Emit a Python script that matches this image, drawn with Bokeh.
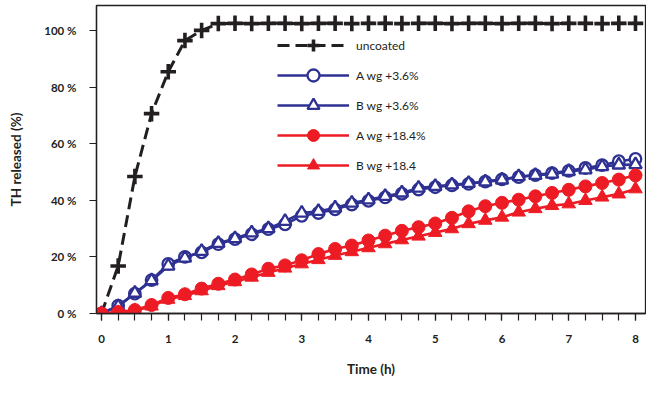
from bokeh.plotting import figure
from bokeh.models import Range1d, FixedTicker, Legend, LegendItem
from bokeh.embed import file_html
from bokeh.resources import INLINE

# ---- data ----
time_h = [0, 0.25, 0.5, 0.75, 1.0, 1.25, 1.5, 1.75, 2.0, 2.25, 2.5, 2.75, 3.0, 3.25,
          3.5, 3.75, 4.0, 4.25, 4.5, 4.75, 5.0, 5.25, 5.5, 5.75, 6.0, 6.25, 6.5, 6.75,
          7.0, 7.25, 7.5, 7.75, 8.0]

uncoated = [0, 16.8, 48.4, 70.6, 85.4, 96.4, 100.0, 102.4, 102.5, 102.4, 102.5, 102.5,
            102.4, 102.5, 102.5, 102.4, 102.5, 102.5, 102.4, 102.5, 102.5, 102.4, 102.5,
            102.5, 102.4, 102.5, 102.5, 102.4, 102.5, 102.5, 102.4, 102.5, 102.5]

a_wg_3_6 = [0, 2.8, 7.0, 11.8, 17.5, 20.0, 21.6, 24.5, 26.3, 28.0, 29.8, 31.5, 34.5,
            35.5, 36.8, 38.5, 39.8, 41.0, 42.3, 43.8, 44.6, 45.3, 45.8, 46.6, 47.4,
            48.2, 48.9, 49.6, 50.4, 51.4, 52.4, 53.8, 54.6]

b_wg_3_6 = [0, 2.5, 7.2, 11.6, 16.8, 19.6, 22.0, 24.8, 26.5, 28.5, 30.0, 32.6, 35.5,
            36.1, 37.3, 39.0, 40.2, 41.4, 42.6, 44.3, 44.9, 45.5, 46.0, 46.5, 47.2,
            48.4, 48.8, 49.3, 50.2, 50.8, 51.9, 52.5, 52.6]

a_wg_18_4 = [0, 0.5, 1.2, 3.0, 5.5, 6.8, 8.8, 10.5, 12.0, 13.8, 15.8, 17.0, 18.8,
             21.0, 22.8, 24.0, 25.8, 27.5, 29.2, 30.5, 31.8, 33.8, 36.1, 37.9, 39.1,
             40.2, 41.4, 42.6, 43.7, 44.9, 46.1, 47.3, 48.8]

b_wg_18_4 = [0, 0.3, 1.0, 2.6, 5.0, 6.3, 8.0, 9.8, 11.2, 12.8, 14.5, 16.0, 17.5,
             19.0, 20.5, 21.8, 23.2, 24.6, 26.0, 27.3, 28.6, 29.9, 31.7, 32.9, 34.0,
             35.8, 37.0, 38.1, 38.7, 39.9, 41.1, 42.2, 44.0]

x_ticks = [0, 1, 2, 3, 4, 5, 6, 7, 8]
y_ticks = [0, 20, 40, 60, 80, 100]
y_tick_labels = ["0 %", "20 %", "40 %", "60 %", "80 %", "100 %"]

series_labels = ["uncoated", "A wg +3.6%", "B wg +3.6%", "A wg +18.4%", "B wg +18.4"]

# ---- styling ----
BLACK = "#231F20"
NAVY = "#2E3192"
RED = "#ED1C24"
FONT = "Lato"

p = figure(width=646, height=379, output_backend="svg", toolbar_location=None,
           x_range=Range1d(-0.075, 8.15), y_range=Range1d(0, 108.8),
           min_border_left=96, min_border_right=1, min_border_top=5,
           min_border_bottom=64)
p.outline_line_color = BLACK
p.outline_line_width = 1.3
p.xgrid.visible = False
p.ygrid.visible = False
p.background_fill_color = "white"
p.border_fill_color = "white"

# x axis
xa = p.xaxis[0]
xa.ticker = FixedTicker(ticks=x_ticks,
                        minor_ticks=[i * 0.25 for i in range(0, 33)])
xa.axis_line_color = BLACK
xa.axis_line_width = 1.3
xa.major_tick_line_color = BLACK
xa.minor_tick_line_color = BLACK
xa.major_tick_line_width = 1.2
xa.minor_tick_line_width = 1.2
xa.major_tick_in = 0
xa.major_tick_out = 7
xa.minor_tick_in = 0
xa.minor_tick_out = 7
xa.major_label_standoff = 14
xa.major_label_text_font = FONT
xa.major_label_text_font_style = "bold"
xa.major_label_text_font_size = "11.5px"
xa.major_label_text_color = BLACK
xa.axis_label = "Time (h)"
xa.axis_label_text_font = FONT
xa.axis_label_text_font_style = "bold"
xa.axis_label_text_font_size = "13.5px"
xa.axis_label_text_color = BLACK
xa.axis_label_standoff = 15

# y axis
ya = p.yaxis[0]
ya.ticker = FixedTicker(ticks=y_ticks, minor_ticks=[])
ya.major_label_overrides = {t: lab for t, lab in zip(y_ticks, y_tick_labels)}
ya.axis_line_color = BLACK
ya.axis_line_width = 1.3
ya.major_tick_line_color = BLACK
ya.major_tick_line_width = 1.2
ya.major_tick_in = 0
ya.major_tick_out = 7
ya.minor_tick_line_color = None
ya.major_label_standoff = 13
ya.major_label_text_font = FONT
ya.major_label_text_font_style = "bold"
ya.major_label_text_font_size = "11.5px"
ya.major_label_text_color = BLACK
ya.axis_label = "TH released (%)"
ya.axis_label_text_font = FONT
ya.axis_label_text_font_style = "bold"
ya.axis_label_text_font_size = "13.5px"
ya.axis_label_text_color = BLACK
ya.axis_label_standoff = 17

items = []

# uncoated
l0 = p.line(time_h, uncoated, line_color=BLACK, line_width=3, line_dash="12 6")
m0 = p.scatter(time_h[1:], uncoated[1:], marker="cross", size=15.5,
               line_color=BLACK, line_width=3.6)
items.append(LegendItem(label=series_labels[0], renderers=[l0, m0]))

# A wg +3.6%
l1 = p.line(time_h, a_wg_3_6, line_color=NAVY, line_width=2.6)
m1 = p.scatter(time_h, a_wg_3_6, marker="circle", size=11.5, fill_color="white",
               line_color=NAVY, line_width=2.3)
items.append(LegendItem(label=series_labels[1], renderers=[l1, m1]))

# B wg +3.6%
l2 = p.line(time_h, b_wg_3_6, line_color=NAVY, line_width=2.6)
m2 = p.scatter(time_h, b_wg_3_6, marker="triangle", size=12.5, fill_color="white",
               line_color=NAVY, line_width=2.3)
items.append(LegendItem(label=series_labels[2], renderers=[l2, m2]))

# A wg +18.4%
l3 = p.line(time_h, a_wg_18_4, line_color=RED, line_width=2.6)
m3 = p.scatter(time_h, a_wg_18_4, marker="circle", size=13, fill_color=RED,
               line_color=RED, line_width=1)
items.append(LegendItem(label=series_labels[3], renderers=[l3, m3]))

# B wg +18.4
l4 = p.line(time_h, b_wg_18_4, line_color=RED, line_width=2.6)
m4 = p.scatter(time_h, b_wg_18_4, marker="triangle", size=13.5, fill_color=RED,
               line_color=RED, line_width=1)
items.append(LegendItem(label=series_labels[4], renderers=[l4, m4]))

legend = Legend(items=items, location=(181, 133))
legend.background_fill_alpha = 0
legend.border_line_alpha = 0
legend.padding = 0
legend.margin = 0
legend.spacing = 0
legend.glyph_width = 72
legend.glyph_height = 30
legend.label_standoff = 7
legend.label_height = 20
legend.label_text_font = FONT
legend.label_text_font_size = "12px"
legend.label_text_color = BLACK
legend.click_policy = "none"
p.add_layout(legend, "center")

open("out.html", "w").write(file_html(p, INLINE))
